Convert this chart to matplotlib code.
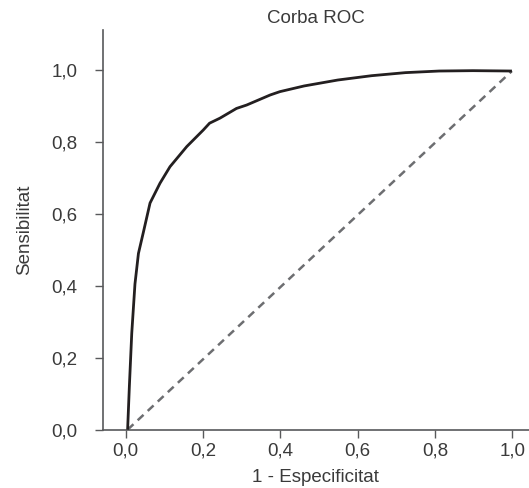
import matplotlib
matplotlib.use("Agg")
import matplotlib.pyplot as plt

# Data
fpr = [0.005, 0.0095, 0.0157, 0.024, 0.033, 0.046, 0.063, 0.0887, 0.1146, 0.158,
       0.2007, 0.217, 0.2439, 0.2866, 0.313, 0.374, 0.399, 0.4616, 0.5487, 0.636,
       0.7235, 0.811, 0.898, 0.999]
tpr = [0.0, 0.12, 0.268, 0.405, 0.490, 0.550, 0.630, 0.685, 0.731, 0.787,
       0.833, 0.852, 0.866, 0.893, 0.9025, 0.9305, 0.9397, 0.9555, 0.972, 0.984,
       0.9925, 0.997, 0.998, 0.997]
diag_x = [0.005, 0.999]
diag_y = [0.0, 0.997]

ticks = [0.0, 0.2, 0.4, 0.6, 0.8, 1.0]
tick_labels = ["0,0", "0,2", "0,4", "0,6", "0,8", "1,0"]

title = "Corba ROC"
xlabel = "1 - Especificitat"
ylabel = "Sensibilitat"

plt.rcParams['font.family'] = ['Liberation Sans', 'DejaVu Sans']
text_color = '#3a3a3a'
axis_color = '#58595b'
fs = 13.5

fig = plt.figure(figsize=(5.29, 4.88), dpi=100)
ax = fig.add_axes([0.1941, 0.1195, 0.8059, 0.819])

ax.plot(fpr, tpr, color='#231f20', lw=2.0, solid_capstyle='butt', zorder=3)
ax.plot(diag_x, diag_y, color='#6d6e71', lw=1.8, linestyle=(0, (3.2, 2.3)), zorder=2)

ax.set_xlim(-0.0595, 1.0432)
ax.set_ylim(0.0, 1.111)

ax.set_xticks(ticks)
ax.set_xticklabels(tick_labels)
ax.set_yticks(ticks)
ax.set_yticklabels(tick_labels)

for s in ['top', 'right']:
    ax.spines[s].set_visible(False)
for s in ['left', 'bottom']:
    ax.spines[s].set_color(axis_color)
    ax.spines[s].set_linewidth(1.2)

ax.tick_params(axis='both', direction='out', length=6, width=1.0, color=axis_color,
               labelsize=fs, labelcolor=text_color)
ax.tick_params(axis='y', pad=12)
ax.tick_params(axis='x', pad=3)

ax.set_title(title, fontsize=fs, color=text_color, pad=4.8)
ax.set_xlabel(xlabel, fontsize=fs, color=text_color, labelpad=7)
ax.set_ylabel(ylabel, fontsize=fs, color=text_color, labelpad=13)

fig.savefig("out.png", dpi=100)
